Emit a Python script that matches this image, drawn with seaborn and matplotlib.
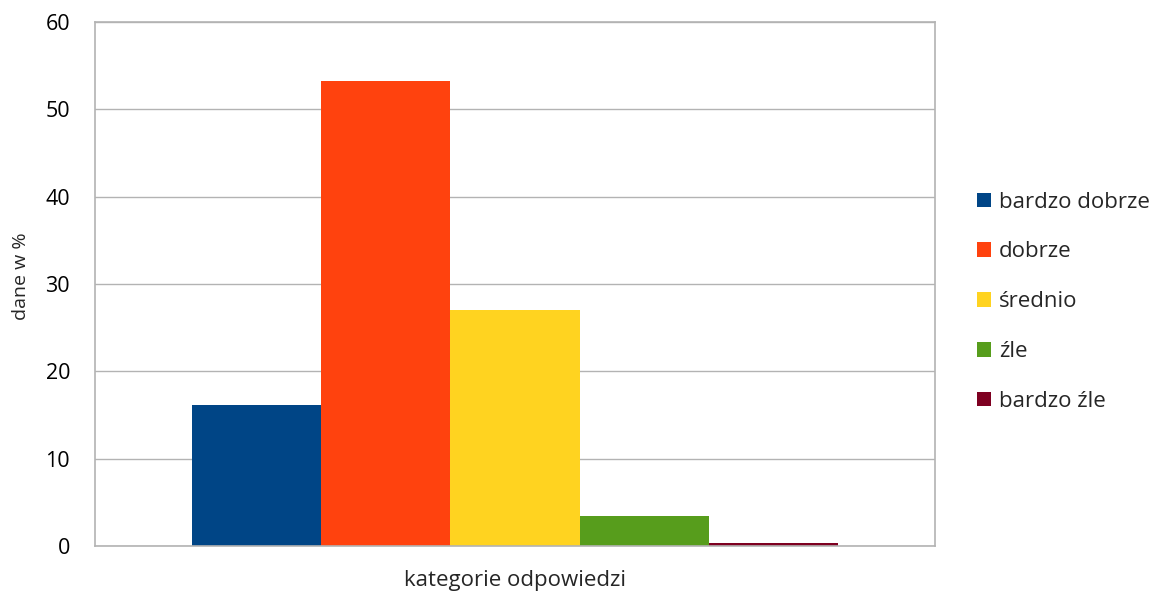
import matplotlib
matplotlib.use("Agg")
import matplotlib.pyplot as plt
import seaborn as sns
import pandas as pd

categories = ["bardzo dobrze", "dobrze", "średnio", "źle", "bardzo źle"]
values = [16.1, 53.2, 27.0, 3.4, 0.3]
group = ["kategorie odpowiedzi"] * len(categories)
colors = ["#004586", "#FF420E", "#FFD320", "#579D1C", "#7E0021"]

df = pd.DataFrame({"grupa": group, "kategoria": categories, "wartosc": values})

sns.set_theme(style="white")
plt.rcParams["font.family"] = ["Open Sans", "DejaVu Sans"]

fig = plt.figure(figsize=(11.56, 5.93), dpi=100)
ax = fig.add_axes([0.0822, 0.0793, 0.7266, 0.8837])

sns.barplot(data=df, x="grupa", y="wartosc", hue="kategoria", hue_order=categories,
            palette=colors, width=0.77, saturation=1, ax=ax, legend=True, errorbar=None,
            linewidth=0, edgecolor="none")

ax.set_ylim(0, 60)
ax.set_yticks(range(0, 61, 10))
ax.set_xlim(-0.5, 0.5)
ax.set_xticks([])
ax.yaxis.grid(True, color="#b3b3b3", linewidth=1)
ax.set_axisbelow(True)
for s in ax.spines.values():
    s.set_color("#b3b3b3")
    s.set_linewidth(1.2)
ax.tick_params(axis="y", labelsize=15.5, length=0, pad=18, colors="#000000")
ax.set_ylabel("dane w %", fontsize=14)
ax.yaxis.set_label_coords(-0.077, 0.515)
ax.set_xlabel("kategorie odpowiedzi", fontsize=16, labelpad=17)

ax.get_legend().remove()
handles, labels = ax.get_legend_handles_labels()
fig.legend(handles, labels, loc="center left", bbox_to_anchor=(0.828, 0.491),
           frameon=False, fontsize=16, handlelength=0.62, handleheight=0.62,
           handletextpad=0.35, labelspacing=1.3)

fig.savefig("out.png", dpi=100)
